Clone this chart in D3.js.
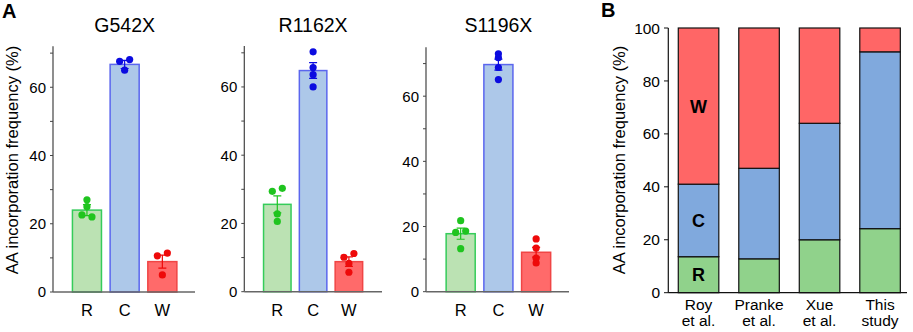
<!DOCTYPE html>
<html>
<head>
<meta charset="utf-8">
<script src="https://cdn.jsdelivr.net/npm/d3@7"></script>
<style>
  body { margin: 0; background: #fff; }
  svg { font-family: Arial, "Liberation Sans", sans-serif; display: block; }
</style>
</head>
<body>
<div id="chart"></div>
<script>
const width = 913;
const height = 332;

// ---- data: panel A ----
const groups = ["R", "C", "W"];
const mutants = ["G542X", "R1162X", "S1196X"];
const barMeans = {
  G542X: [24.0, 66.7, 8.9],
  R1162X: [25.6, 64.8, 8.8],
  S1196X: [17.8, 69.7, 12.1]
};
const barErrors = {
  G542X: [1.6, 1.2, 1.9],
  R1162X: [2.5, 2.3, 1.4],
  S1196X: [1.7, 1.7, 1.5]
};
const dotValues = {
  G542X: [[27.0, 25.0, 22.6, 22.0], [67.6, 68.1, 65.0], [10.6, 11.4, 5.0]],
  R1162X: [[29.4, 30.3, 22.8, 20.6], [70.3, 65.7, 63.6, 60.0], [10.1, 11.2, 8.3, 5.7]],
  S1196X: [[21.8, 18.2, 18.6, 13.2], [73.0, 71.8, 68.8, 65.1], [16.2, 13.4, 10.3, 8.8]]
};

// ---- data: panel B ----
const studies = [["Roy", "et al."], ["Pranke", "et al."], ["Xue", "et al."], ["This", "study"]];
const shareR = [13.6, 12.8, 20.0, 24.2];
const shareC = [27.4, 34.2, 44.0, 66.8];
const shareW = [59.0, 53.0, 36.0, 9.0];
const yTicksB = [0, 20, 40, 60, 80, 100];

const fills = { R: "#bbe2b3", C: "#adc8e9", W: "#ff6a6a" };
const strokes = { R: "#35cc5a", C: "#5b66ee", W: "#f04545" };
const dotCol = { R: "#1fc41f", C: "#0b0be0", W: "#ee0a0a" };
const fillsB = { R: "#90d28b", C: "#80a9dd", W: "#ff6666" };

const svg = d3.select("#chart").append("svg")
  .attr("width", width)
  .attr("height", height);

// panel letters
svg.append("text").attr("x", 2).attr("y", 18).attr("font-size", 20).attr("font-weight", "bold").text("A");
svg.append("text").attr("x", 601).attr("y", 17).attr("font-size", 20).attr("font-weight", "bold").text("B");

// y label panel A
svg.append("text")
  .attr("transform", "translate(18,160) rotate(-90)")
  .attr("text-anchor", "middle")
  .attr("font-size", 16.5)
  .text("AA incorporation frequency (%)");

// layout of the three small panels
const panels = [
  { name: "G542X", axisX: 53, axisEnd: 195, band: [68.1, 181.2], y0: 292, ymax: 72, ytop: 46.3 },
  { name: "R1162X", axisX: 244.3, axisEnd: 382, band: [259.4, 366.8], y0: 291.7, ymax: 72, ytop: 46 },
  { name: "S1196X", axisX: 426, axisEnd: 569, band: [441.8, 555], y0: 291.7, ymax: 75, ytop: 47.3 }
];

panels.forEach(p => {
  const g = svg.append("g");
  const x = d3.scaleBand().domain(groups).range(p.band).paddingInner(0.19).paddingOuter(0.095);
  const y = d3.scaleLinear().domain([0, p.ymax]).range([p.y0, p.ytop]);

  // title
  g.append("text")
    .attr("x", (p.band[0] + p.band[1]) / 2)
    .attr("y", 32)
    .attr("text-anchor", "middle")
    .attr("font-size", 19.5)
    .text(p.name);

  // bars
  const means = barMeans[p.name];
  const errs = barErrors[p.name];
  g.selectAll("rect")
    .data(groups)
    .join("rect")
      .attr("x", d => x(d) + 0.75)
      .attr("y", (d, i) => y(means[i]))
      .attr("width", x.bandwidth() - 1.5)
      .attr("height", (d, i) => y(0) - y(means[i]))
      .attr("fill", d => fills[d])
      .attr("stroke", d => strokes[d])
      .attr("stroke-width", 1.5);

  // error bars
  groups.forEach((gr, i) => {
    const cx = x(gr) + x.bandwidth() / 2;
    g.append("path")
      .attr("d", `M${cx},${y(means[i] - errs[i])}V${y(means[i] + errs[i])}M${cx - 4},${y(means[i] + errs[i])}H${cx + 4}M${cx - 4},${y(means[i] - errs[i])}H${cx + 4}`)
      .attr("stroke", dotCol[gr])
      .attr("stroke-width", 1.2)
      .attr("fill", "none");

    // dots, pushed sideways only where they sit almost on top of each other
    const vals = dotValues[p.name][i];
    const placed = [];
    vals.forEach(v => {
      const near = placed.filter(q => Math.abs(y(q.v) - y(v)) < 3.8);
      let off = 0;
      if (near.length) {
        const used = near.map(q => q.off);
        if (used.includes(0)) near.forEach(q => { if (q.off === 0) q.off = -5; });
        off = 5;
      }
      placed.push({ v, off });
    });
    g.selectAll(null)
      .data(placed)
      .join("circle")
        .attr("cx", d => cx + d.off)
        .attr("cy", d => y(d.v))
        .attr("r", 3.6)
        .attr("fill", dotCol[gr]);
  });

  // y axis
  g.append("line")
    .attr("x1", p.axisX).attr("x2", p.axisX)
    .attr("y1", y(0)).attr("y2", p.ytop)
    .attr("stroke", "#444").attr("stroke-width", 1.2);
  d3.range(0, p.ymax + 1, 10).forEach(t => {
    g.append("line")
      .attr("x1", p.axisX - 3).attr("x2", p.axisX)
      .attr("y1", y(t)).attr("y2", y(t))
      .attr("stroke", "#444").attr("stroke-width", 1);
    if (t % 20 === 0) {
      g.append("text")
        .attr("x", p.axisX - 7)
        .attr("y", y(t))
        .attr("dy", "0.36em")
        .attr("text-anchor", "end")
        .attr("font-size", 15)
        .text(t);
    }
  });
  // x axis
  g.append("line")
    .attr("x1", p.axisX).attr("x2", p.axisEnd)
    .attr("y1", y(0)).attr("y2", y(0))
    .attr("stroke", "#666").attr("stroke-width", 1.4);
  g.selectAll(".xl")
    .data(groups)
    .join("text")
      .attr("x", d => x(d) + x.bandwidth() / 2)
      .attr("y", 316)
      .attr("text-anchor", "middle")
      .attr("font-size", 16.5)
      .text(d => d);
});

// ---- panel B ----
const gB = svg.append("g");
const xB = d3.scaleBand().domain(d3.range(studies.length)).range([668.3, 910.3]).paddingInner(0.33).paddingOuter(0.165);
const yB = d3.scaleLinear().domain([0, 100]).range([292.7, 28]);

const stackData = studies.map((s, i) => ({ i, R: shareR[i], C: shareC[i], W: shareW[i] }));
const series = d3.stack().keys(["R", "C", "W"])(stackData);

gB.selectAll("g.s")
  .data(series)
  .join("g")
    .attr("fill", d => fillsB[d.key])
  .selectAll("rect")
  .data(d => d)
  .join("rect")
    .attr("x", d => xB(d.data.i))
    .attr("y", d => yB(d[1]))
    .attr("width", xB.bandwidth())
    .attr("height", d => yB(d[0]) - yB(d[1]))
    .attr("stroke", "#111")
    .attr("stroke-width", 1.2);

// labels inside first bar
series.forEach(s => {
  const d = s[0];
  gB.append("text")
    .attr("x", xB(0) + xB.bandwidth() / 2)
    .attr("y", yB((d[0] + d[1]) / 2))
    .attr("dy", "0.36em")
    .attr("text-anchor", "middle")
    .attr("font-size", 18)
    .attr("font-weight", "bold")
    .text(s.key);
});

// axes B
gB.append("line")
  .attr("x1", 668.3).attr("x2", 668.3).attr("y1", yB(0)).attr("y2", yB(100))
  .attr("stroke", "#111").attr("stroke-width", 1.2);
gB.append("line")
  .attr("x1", 668.3).attr("x2", 907).attr("y1", yB(0)).attr("y2", yB(0))
  .attr("stroke", "#111").attr("stroke-width", 1.2);
yTicksB.forEach(t => {
  gB.append("line")
    .attr("x1", 664).attr("x2", 668.3).attr("y1", yB(t)).attr("y2", yB(t))
    .attr("stroke", "#111");
  gB.append("text")
    .attr("x", 660).attr("y", yB(t)).attr("dy", "0.36em")
    .attr("text-anchor", "end").attr("font-size", 15.5)
    .text(t);
});
studies.forEach((s, i) => {
  const t = gB.append("text")
    .attr("text-anchor", "middle")
    .attr("font-size", 15.5);
  s.forEach((line, k) => {
    t.append("tspan")
      .attr("x", xB(i) + xB.bandwidth() / 2)
      .attr("y", 309.5 + k * 16.5)
      .text(line);
  });
});

svg.append("text")
  .attr("transform", "translate(625,160) rotate(-90)")
  .attr("text-anchor", "middle")
  .attr("font-size", 16.5)
  .text("AA incorporation frequency (%)");
</script>
</body>
</html>
